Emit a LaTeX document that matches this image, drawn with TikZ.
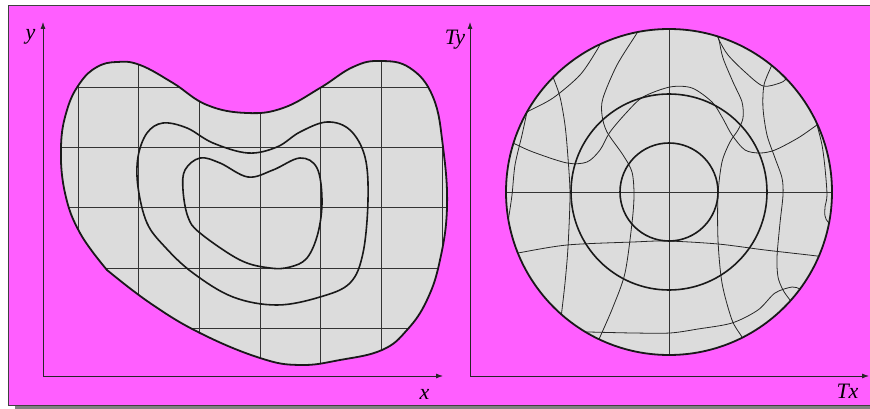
\documentclass[tikz,border=0pt]{standalone}
\usepackage{fontspec}
\setmainfont{Liberation Serif}
\usetikzlibrary{arrows.meta}
\definecolor{bgmag}{HTML}{FF5EFF}
\definecolor{shapegray}{HTML}{DCDCDC}
\definecolor{framegray}{HTML}{404040}
\definecolor{shadowgray}{HTML}{808080}
\tikzset{
  outline/.style={line width=1.8pt, draw=black!90},
  contour/.style={line width=1.6pt, draw=black!90},
  gridline/.style={line width=0.8pt, draw=black!80},
  warpline/.style={line width=0.8pt, draw=black!85},
  axis/.style={line width=0.8pt, draw=black!85, -{Latex[length=7pt,width=5pt]}},
  lbl/.style={font=\fontsize{22}{22}\selectfont\itshape, inner sep=0pt, anchor=base},
}
\begin{document}
\begin{tikzpicture}[x=1pt,y=-1pt]
\useasboundingbox (0,0) rectangle (870,409);
\fill[white] (0,0) rectangle (870,409);
\fill[shadowgray] (15,405) rectangle (870,409);
\filldraw[fill=bgmag, draw=framegray, line width=0.8pt] (8,5) rectangle (874,405.5);

% ---------- left panel: blob ----------
\def\blobpath{plot[smooth, tension=0.7] coordinates {(107,270) (80,233) (65,193) (61,147) (67,110) (80,83) (97,67) (117,62) (140,65) (173,83) (207,105) (247,113) (283,108) (320,88) (353,67) (380,61) (410,68) (433,97) (443,147) (447,207) (440,260) (427,300) (407,330) (382,350) (340,360) (300,365) (260,358) (200,333) (150,303) (107,270)} -- cycle}
\fill[shapegray] \blobpath;
\begin{scope}
  \clip \blobpath;
  \foreach \gx in {78,138.7,199.3,260,320.7,381.3,442}
    \draw[gridline] (\gx,40) -- (\gx,380);
  \foreach \gy in {87,147.3,207.5,268,328}
    \draw[gridline] (50,\gy) -- (460,\gy);
\end{scope}
\draw[contour] plot[smooth cycle, tension=0.6] coordinates {(147,133) (163,123) (187,128) (213,143) (248,153) (277,147) (300,132) (327,122) (350,130) (365,157) (368,200) (363,253) (350,283) (320,297) (277,305) (233,297) (193,273) (165,247) (147,223) (138,187) (138,157)};
\draw[contour] plot[smooth cycle, tension=0.6] coordinates {(185,170) (200,158) (220,163) (248,177) (273,170) (300,158) (317,168) (322,200) (318,233) (307,258) (290,267) (270,268) (240,260) (200,233) (188,217) (183,190)};
\draw[outline] \blobpath;

% ---------- right panel: disc ----------
\coordinate (C) at (669,192);
\fill[shapegray] (C) circle[radius=163pt];
\begin{scope}
  \clip (C) circle[radius=163pt];
  \draw[gridline] (669,20) -- (669,365);
  \draw[gridline] (495,192) -- (845,192);
  % warped verticals
  \draw[warpline] plot[smooth] coordinates {(529,104) (527,112) (522,135) (515,165) (512,195) (508,222) (506,235)};
  \draw[warpline] plot[smooth] coordinates {(550,70) (553,77) (560,97) (565,125) (568,158) (570,195) (568,247) (565,283) (561,318)};
  \draw[warpline] plot[smooth] coordinates {(641,25) (637,33) (617,65) (603,98) (602,115) (607,132) (623,155) (632,172) (634,195) (632,223) (625,273) (613,307) (600,337) (596,346)};
  \draw[warpline] plot[smooth] coordinates {(716,30) (719,40) (723,58) (733,82) (742,102) (743,118) (738,130) (730,142) (722,162) (718,195) (718,240) (722,283) (732,320) (742,337) (746,345)};
  \draw[warpline] plot[smooth] coordinates {(774,60) (771,67) (764,85) (763,108) (767,135) (775,158) (782,178) (783,195) (780,223) (777,257) (778,277) (783,290) (790,300) (795,306)};
  \draw[warpline] plot[smooth] coordinates {(815,118) (817,125) (822,145) (825,168) (827,195) (825,207) (825,216) (828,222) (835,224)};
  % warped horizontals
  \draw[warpline] plot[smooth] coordinates {(522,116) (527,112) (553,98) (580,75) (597,50) (602,40)};
  \draw[warpline] plot[smooth] coordinates {(716,32) (719,40) (728,55) (745,72) (763,86) (780,83) (785,80) (790,75)};
  \draw[warpline] plot[smooth] coordinates {(507,140) (513,143) (533,152) (567,163) (587,162) (600,150) (610,132) (627,112) (643,97) (670,87) (692,88) (712,102) (722,117) (732,135) (745,150) (760,153) (775,150) (798,138) (817,125) (825,120)};
  \draw[warpline] plot[smooth] coordinates {(510,255) (518,253) (567,245) (633,242) (667,241) (718,244) (765,250) (817,256) (826,258)};
  \draw[warpline] plot[smooth] coordinates {(578,332) (588,332) (633,333) (670,333) (698,329) (732,323) (758,310) (775,293) (792,287) (800,289) (808,292)};
\end{scope}
\draw[contour] (C) circle[radius=98pt];
\draw[contour] (C) circle[radius=49pt];
\draw[outline] (C) circle[radius=163pt];

% ---------- axes ----------
\coordinate (O1) at (43,376);
\coordinate (Y1) at (43,22);
\coordinate (X1) at (443,376);
\coordinate (O2) at (470,376);
\coordinate (Y2) at (470,22);
\coordinate (X2) at (869,376);
\draw[axis] (O1) -- (Y1);
\draw[axis] (O1) -- (X1);
\draw[axis] (O2) -- (Y2);
\draw[axis] (O2) -- (X2);

\node[lbl] (ylab) at (30.5,40) {y};
\node[lbl] (xlab) at (424.5,399) {x};
\node[lbl] (tylab) at (455,45) {Ty};
\node[lbl] (txlab) at (847.5,398) {Tx};
\end{tikzpicture}
\end{document}
